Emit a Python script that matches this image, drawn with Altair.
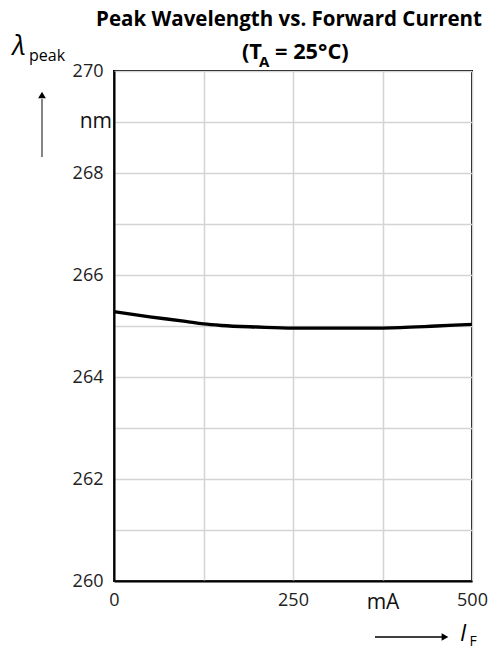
import altair as alt
import pandas as pd

current_mA = [0, 50, 100, 125, 150, 200, 250, 300, 350, 400, 450, 500]
wavelength_nm = [265.28, 265.18, 265.09, 265.04, 265.01, 264.98, 264.96, 264.96, 264.96, 264.97, 265.00, 265.03]

x_ticks = [0, 125, 250, 375, 500]
y_ticks = list(range(260, 271))

W, H = 358, 510
FONT = "Open Sans"

df = pd.DataFrame({"I": current_mA, "L": wavelength_nm})
one = pd.DataFrame({"a": [0]})

xs = alt.Scale(domain=[0, 500], nice=False)
ys = alt.Scale(domain=[260, 270], nice=False)

line = alt.Chart(df).mark_line(color="black", strokeWidth=3.3, interpolate="monotone").encode(
    x=alt.X("I:Q", scale=xs, axis=alt.Axis(
        values=x_ticks, title=None, grid=True, ticks=False, labelFlush=False,
        labelOverlap=False, labelPadding=10,
        labelExpr="datum.value == 375 ? 'mA' : (datum.value % 250 == 0 ? datum.label : '')",
        labelFontSize={"condition": {"test": "datum.value == 375", "value": 21}, "value": 18},
        labelColor={"condition": {"test": "datum.value == 375", "value": "#111"}, "value": "#222"},
    )),
    y=alt.Y("L:Q", scale=ys, axis=alt.Axis(
        values=y_ticks, title=None, grid=True, ticks=False, labelOverlap=False,
        labelPadding=11, labelBaseline="middle",
        labelExpr="datum.value % 2 == 0 ? datum.label : ''",
    )),
)

def txt(text, x, y, size, **kw):
    return alt.Chart(one).mark_text(text=text, fontSize=size, font=FONT, color="black", **kw).encode(
        x=alt.value(x), y=alt.value(y))

nm = alt.Chart(one).mark_text(text="nm", fontSize=21, font=FONT, color="#111", align="right",
                              baseline="middle").encode(x=alt.value(-2), y=alt.datum(269, scale=ys))

title1 = txt("Peak Wavelength vs. Forward Current", 175, -51, 20.5, fontWeight="bold", align="center", baseline="middle")
t2a = txt("(T", 148, -19, 21.8, fontWeight="bold", align="right", baseline="middle")
t2b = txt("A", 145, -9, 15, fontWeight="bold", align="left", baseline="middle")
t2c = txt("= 25°C)", 161, -19, 21.8, fontWeight="bold", align="left", baseline="middle")

lam = txt("λ", -95, -24, 27, fontStyle="italic", align="center", baseline="middle")
peak = txt("peak", -67, -15, 16, align="center", baseline="middle")
up_line = alt.Chart(one).mark_rule(color="#444", strokeWidth=1.3).encode(
    x=alt.value(-72), y=alt.value(86), y2=alt.value(28))
up_head = alt.Chart(one).mark_point(shape="triangle-up", filled=True, color="black", size=60, opacity=1).encode(
    x=alt.value(-72), y=alt.value(24))

r_line = alt.Chart(one).mark_rule(color="black", strokeWidth=1.3).encode(
    x=alt.value(261), x2=alt.value(328), y=alt.value(566))
r_head = alt.Chart(one).mark_point(shape="triangle-right", filled=True, color="black", size=60, opacity=1).encode(
    x=alt.value(331), y=alt.value(566))
i_f = txt("I", 349, 563, 23, fontStyle="italic", align="center", baseline="middle")
f_sub = txt("F", 359, 571, 14, align="center", baseline="middle")

chart = alt.layer(
    line, nm, title1, t2a, t2b, t2c, lam, peak, up_line, up_head, r_line, r_head, i_f, f_sub
).properties(
    width=W, height=H,
    autosize=alt.AutoSizeParams(type="none"),
    padding={"left": 106, "top": 63, "right": 20, "bottom": 70},
).configure_view(
    stroke="black", strokeWidth=2
).configure_axis(
    gridColor="#d4d4d4", gridWidth=1.5, domainColor="black", domainWidth=2,
    labelFont=FONT, labelFontSize=18, labelColor="#222",
)

chart.save("out.html", embed_options={"renderer": "svg", "actions": False})
